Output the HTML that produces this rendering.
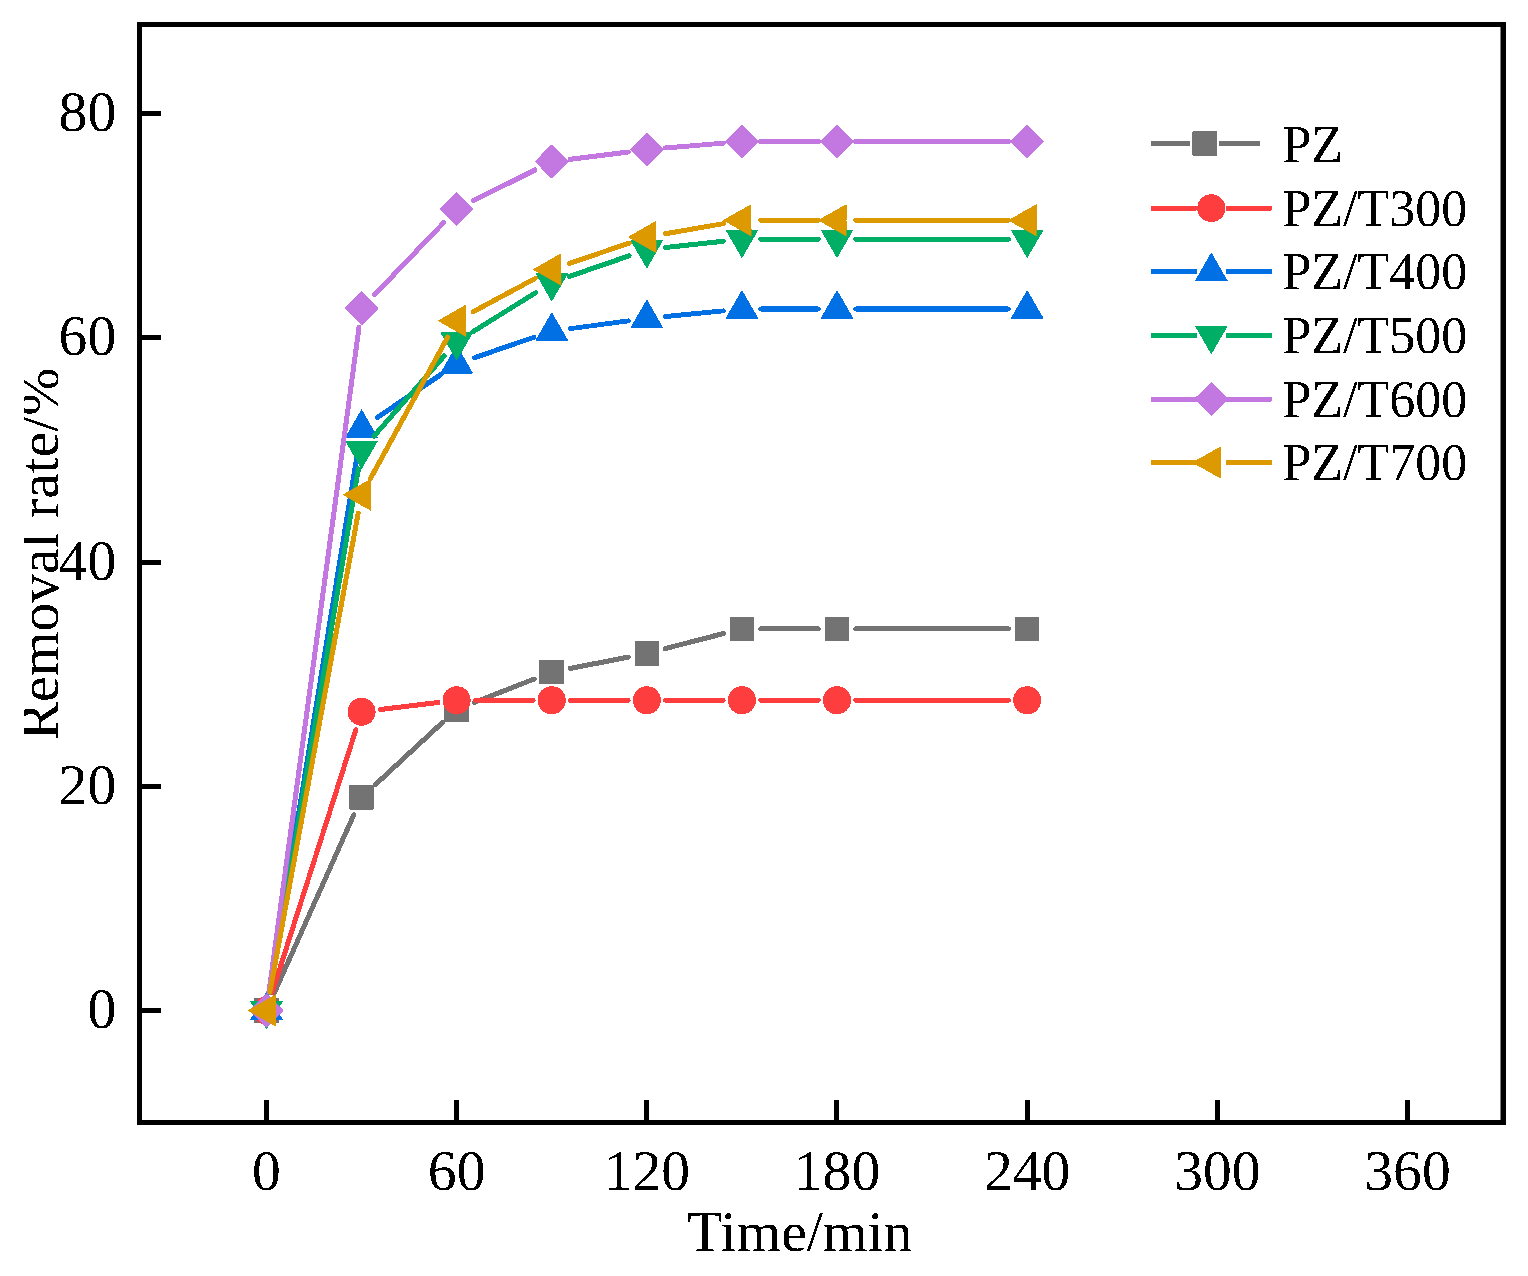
<!DOCTYPE html>
<html><head><meta charset="utf-8"><style>
html,body{margin:0;padding:0;background:#fff;}
svg{display:block;}
.tk{filter:url(#crisp);font-family:"Liberation Serif","Times New Roman",serif;font-size:57.6px;fill:#000;}
.lg{filter:url(#crisp);font-family:"Liberation Serif","Times New Roman",serif;font-size:52px;fill:#000;}
</style></head><body>
<svg width="1528" height="1276" viewBox="0 0 1528 1276">
<defs><filter id="crisp" x="0" y="0" width="100%" height="100%" color-interpolation-filters="sRGB"><feComponentTransfer><feFuncA type="discrete" tableValues="0 1"/></feComponentTransfer></filter></defs>
<rect width="1528" height="1276" fill="#fff"/>
<g filter="url(#crisp)"><line x1="274.16" y1="993.33" x2="353.92" y2="814.52" stroke="#737373" stroke-width="5.0" stroke-linecap="round"/>
<line x1="375.38" y1="784.58" x2="442.87" y2="722.10" stroke="#737373" stroke-width="5.0" stroke-linecap="round"/>
<line x1="474.17" y1="702.48" x2="534.24" y2="678.96" stroke="#737373" stroke-width="5.0" stroke-linecap="round"/>
<line x1="570.20" y1="668.47" x2="628.39" y2="657.01" stroke="#737373" stroke-width="5.0" stroke-linecap="round"/>
<line x1="665.04" y1="648.68" x2="723.71" y2="633.53" stroke="#737373" stroke-width="5.0" stroke-linecap="round"/>
<line x1="760.72" y1="628.83" x2="818.20" y2="628.83" stroke="#737373" stroke-width="5.0" stroke-linecap="round"/>
<line x1="855.80" y1="628.83" x2="1008.37" y2="628.83" stroke="#737373" stroke-width="5.0" stroke-linecap="round"/>
<rect x="254.25" y="998.25" width="24.5" height="24.5" fill="#737373"/>
<rect x="349.33" y="785.10" width="24.5" height="24.5" fill="#737373"/>
<rect x="444.42" y="697.08" width="24.5" height="24.5" fill="#737373"/>
<rect x="539.50" y="659.86" width="24.5" height="24.5" fill="#737373"/>
<rect x="634.58" y="641.13" width="24.5" height="24.5" fill="#737373"/>
<rect x="729.67" y="616.58" width="24.5" height="24.5" fill="#737373"/>
<rect x="824.75" y="616.58" width="24.5" height="24.5" fill="#737373"/>
<rect x="1014.92" y="616.58" width="24.5" height="24.5" fill="#737373"/>
<line x1="272.20" y1="992.59" x2="355.88" y2="729.71" stroke="#FE3E3E" stroke-width="5.0" stroke-linecap="round"/>
<line x1="380.25" y1="709.53" x2="438.00" y2="702.52" stroke="#FE3E3E" stroke-width="5.0" stroke-linecap="round"/>
<line x1="475.47" y1="700.25" x2="532.95" y2="700.25" stroke="#FE3E3E" stroke-width="5.0" stroke-linecap="round"/>
<line x1="570.55" y1="700.25" x2="628.03" y2="700.25" stroke="#FE3E3E" stroke-width="5.0" stroke-linecap="round"/>
<line x1="665.63" y1="700.25" x2="723.12" y2="700.25" stroke="#FE3E3E" stroke-width="5.0" stroke-linecap="round"/>
<line x1="760.72" y1="700.25" x2="818.20" y2="700.25" stroke="#FE3E3E" stroke-width="5.0" stroke-linecap="round"/>
<line x1="855.80" y1="700.25" x2="1008.37" y2="700.25" stroke="#FE3E3E" stroke-width="5.0" stroke-linecap="round"/>
<circle cx="266.50" cy="1010.50" r="14" fill="#FE3E3E"/>
<circle cx="361.58" cy="711.80" r="14" fill="#FE3E3E"/>
<circle cx="456.67" cy="700.25" r="14" fill="#FE3E3E"/>
<circle cx="551.75" cy="700.25" r="14" fill="#FE3E3E"/>
<circle cx="646.83" cy="700.25" r="14" fill="#FE3E3E"/>
<circle cx="741.92" cy="700.25" r="14" fill="#FE3E3E"/>
<circle cx="837.00" cy="700.25" r="14" fill="#FE3E3E"/>
<circle cx="1027.17" cy="700.25" r="14" fill="#FE3E3E"/>
<line x1="269.53" y1="991.95" x2="358.55" y2="446.68" stroke="#0070E4" stroke-width="5.0" stroke-linecap="round"/>
<line x1="377.16" y1="417.60" x2="441.09" y2="374.40" stroke="#0070E4" stroke-width="5.0" stroke-linecap="round"/>
<line x1="474.44" y1="357.75" x2="533.97" y2="337.26" stroke="#0070E4" stroke-width="5.0" stroke-linecap="round"/>
<line x1="570.38" y1="328.63" x2="628.20" y2="320.86" stroke="#0070E4" stroke-width="5.0" stroke-linecap="round"/>
<line x1="665.54" y1="316.52" x2="723.21" y2="310.88" stroke="#0070E4" stroke-width="5.0" stroke-linecap="round"/>
<line x1="760.72" y1="309.05" x2="818.20" y2="309.05" stroke="#0070E4" stroke-width="5.0" stroke-linecap="round"/>
<line x1="855.80" y1="309.05" x2="1008.37" y2="309.05" stroke="#0070E4" stroke-width="5.0" stroke-linecap="round"/>
<polygon points="266.50,991.45 283.00,1020.03 250.00,1020.03" fill="#0070E4"/>
<polygon points="361.58,409.07 378.08,437.65 345.08,437.65" fill="#0070E4"/>
<polygon points="456.67,344.82 473.17,373.40 440.17,373.40" fill="#0070E4"/>
<polygon points="551.75,312.08 568.25,340.66 535.25,340.66" fill="#0070E4"/>
<polygon points="646.83,299.30 663.33,327.88 630.33,327.88" fill="#0070E4"/>
<polygon points="741.92,289.99 758.42,318.57 725.42,318.57" fill="#0070E4"/>
<polygon points="837.00,289.99 853.50,318.57 820.50,318.57" fill="#0070E4"/>
<polygon points="1027.17,289.99 1043.67,318.57 1010.67,318.57" fill="#0070E4"/>
<line x1="269.65" y1="991.97" x2="358.44" y2="468.75" stroke="#00AE66" stroke-width="5.0" stroke-linecap="round"/>
<line x1="373.98" y1="436.08" x2="444.27" y2="355.92" stroke="#00AE66" stroke-width="5.0" stroke-linecap="round"/>
<line x1="472.63" y1="331.85" x2="535.79" y2="292.52" stroke="#00AE66" stroke-width="5.0" stroke-linecap="round"/>
<line x1="569.51" y1="276.43" x2="629.07" y2="255.78" stroke="#00AE66" stroke-width="5.0" stroke-linecap="round"/>
<line x1="665.52" y1="247.57" x2="723.23" y2="241.24" stroke="#00AE66" stroke-width="5.0" stroke-linecap="round"/>
<line x1="760.72" y1="239.19" x2="818.20" y2="239.19" stroke="#00AE66" stroke-width="5.0" stroke-linecap="round"/>
<line x1="855.80" y1="239.19" x2="1008.37" y2="239.19" stroke="#00AE66" stroke-width="5.0" stroke-linecap="round"/>
<polygon points="266.50,1029.55 283.00,1000.97 250.00,1000.97" fill="#00AE66"/>
<polygon points="361.58,469.26 378.08,440.69 345.08,440.69" fill="#00AE66"/>
<polygon points="456.67,360.84 473.17,332.26 440.17,332.26" fill="#00AE66"/>
<polygon points="551.75,301.64 568.25,273.06 535.25,273.06" fill="#00AE66"/>
<polygon points="646.83,268.67 663.33,240.09 630.33,240.09" fill="#00AE66"/>
<polygon points="741.92,258.24 758.42,229.67 725.42,229.67" fill="#00AE66"/>
<polygon points="837.00,258.24 853.50,229.67 820.50,229.67" fill="#00AE66"/>
<polygon points="1027.17,258.24 1043.67,229.67 1010.67,229.67" fill="#00AE66"/>
<line x1="269.02" y1="991.87" x2="359.06" y2="327.00" stroke="#C278E0" stroke-width="5.0" stroke-linecap="round"/>
<line x1="374.58" y1="294.79" x2="443.67" y2="222.61" stroke="#C278E0" stroke-width="5.0" stroke-linecap="round"/>
<line x1="473.48" y1="200.62" x2="534.93" y2="169.90" stroke="#C278E0" stroke-width="5.0" stroke-linecap="round"/>
<line x1="570.40" y1="159.16" x2="628.18" y2="151.94" stroke="#C278E0" stroke-width="5.0" stroke-linecap="round"/>
<line x1="665.57" y1="148.01" x2="723.18" y2="143.12" stroke="#C278E0" stroke-width="5.0" stroke-linecap="round"/>
<line x1="760.72" y1="141.53" x2="818.20" y2="141.53" stroke="#C278E0" stroke-width="5.0" stroke-linecap="round"/>
<line x1="855.80" y1="141.53" x2="1008.37" y2="141.53" stroke="#C278E0" stroke-width="5.0" stroke-linecap="round"/>
<polygon points="266.50,993.30 283.70,1010.50 266.50,1027.70 249.30,1010.50" fill="#C278E0"/>
<polygon points="361.58,291.17 378.78,308.37 361.58,325.57 344.38,308.37" fill="#C278E0"/>
<polygon points="456.67,191.83 473.87,209.03 456.67,226.23 439.47,209.03" fill="#C278E0"/>
<polygon points="551.75,144.29 568.95,161.49 551.75,178.69 534.55,161.49" fill="#C278E0"/>
<polygon points="646.83,132.40 664.03,149.60 646.83,166.80 629.63,149.60" fill="#C278E0"/>
<polygon points="741.92,124.33 759.12,141.53 741.92,158.73 724.72,141.53" fill="#C278E0"/>
<polygon points="837.00,124.33 854.20,141.53 837.00,158.73 819.80,141.53" fill="#C278E0"/>
<polygon points="1027.17,124.33 1044.37,141.53 1027.17,158.73 1009.97,141.53" fill="#C278E0"/>
<line x1="269.91" y1="992.01" x2="358.17" y2="513.21" stroke="#DC9A00" stroke-width="5.0" stroke-linecap="round"/>
<line x1="370.60" y1="478.23" x2="447.65" y2="337.20" stroke="#DC9A00" stroke-width="5.0" stroke-linecap="round"/>
<line x1="473.22" y1="311.79" x2="535.20" y2="278.38" stroke="#DC9A00" stroke-width="5.0" stroke-linecap="round"/>
<line x1="569.55" y1="263.40" x2="629.04" y2="243.13" stroke="#DC9A00" stroke-width="5.0" stroke-linecap="round"/>
<line x1="665.35" y1="233.81" x2="723.40" y2="223.61" stroke="#DC9A00" stroke-width="5.0" stroke-linecap="round"/>
<line x1="760.72" y1="220.36" x2="818.20" y2="220.36" stroke="#DC9A00" stroke-width="5.0" stroke-linecap="round"/>
<line x1="855.80" y1="220.36" x2="1008.37" y2="220.36" stroke="#DC9A00" stroke-width="5.0" stroke-linecap="round"/>
<polygon points="247.43,1010.50 276.03,994.25 276.03,1026.75" fill="#DC9A00"/>
<polygon points="342.52,494.73 371.12,478.48 371.12,510.98" fill="#DC9A00"/>
<polygon points="437.60,320.71 466.20,304.46 466.20,336.96" fill="#DC9A00"/>
<polygon points="532.68,269.47 561.28,253.22 561.28,285.72" fill="#DC9A00"/>
<polygon points="627.77,237.06 656.37,220.81 656.37,253.31" fill="#DC9A00"/>
<polygon points="722.85,220.36 751.45,204.11 751.45,236.61" fill="#DC9A00"/>
<polygon points="817.93,220.36 846.53,204.11 846.53,236.61" fill="#DC9A00"/>
<polygon points="1008.10,220.36 1036.70,204.11 1036.70,236.61" fill="#DC9A00"/></g>
<g filter="url(#crisp)"><rect x="1151" y="141.00" width="39.00" height="5" fill="#737373"/>
<rect x="1219.20" y="141.00" width="40.30" height="5" fill="#737373"/>
<rect x="1192.35" y="131.25" width="24.5" height="24.5" fill="#737373"/>
<rect x="1151" y="205.70" width="45.70" height="5" fill="#FE3E3E"/>
<rect x="1225.90" y="205.70" width="45.80" height="5" fill="#FE3E3E"/>
<circle cx="1211.30" cy="208.20" r="14" fill="#FE3E3E"/>
<rect x="1151" y="268.90" width="45.70" height="5" fill="#0070E4"/>
<rect x="1225.90" y="268.90" width="45.80" height="5" fill="#0070E4"/>
<polygon points="1211.30,252.35 1227.80,280.93 1194.80,280.93" fill="#0070E4"/>
<rect x="1151" y="332.90" width="45.70" height="5" fill="#00AE66"/>
<rect x="1225.90" y="332.90" width="45.80" height="5" fill="#00AE66"/>
<polygon points="1211.30,354.45 1227.80,325.87 1194.80,325.87" fill="#00AE66"/>
<rect x="1151" y="396.60" width="45.70" height="5" fill="#C278E0"/>
<rect x="1225.90" y="396.60" width="45.80" height="5" fill="#C278E0"/>
<polygon points="1211.30,381.90 1228.50,399.10 1211.30,416.30 1194.10,399.10" fill="#C278E0"/>
<rect x="1151" y="460.00" width="45.70" height="5" fill="#DC9A00"/>
<rect x="1225.90" y="460.00" width="45.80" height="5" fill="#DC9A00"/>
<polygon points="1192.23,462.50 1220.83,446.25 1220.83,478.75" fill="#DC9A00"/></g>
<text x="1282.4" y="161.90" class="lg">PZ</text>
<text x="1282.4" y="225.60" class="lg">PZ/T300</text>
<text x="1282.4" y="288.80" class="lg">PZ/T400</text>
<text x="1282.4" y="352.80" class="lg">PZ/T500</text>
<text x="1282.4" y="416.50" class="lg">PZ/T600</text>
<text x="1282.4" y="479.90" class="lg">PZ/T700</text>
<rect x="137" y="22" width="1369" height="5" fill="#000"/>
<rect x="137" y="1120" width="1369" height="5" fill="#000"/>
<rect x="137" y="22" width="5" height="1103" fill="#000"/>
<rect x="1500.5" y="22" width="5.5" height="1103" fill="#000"/>
<rect x="142" y="1008.00" width="19" height="5" fill="#000"/>
<text x="116.2" y="1028.20" class="tk" text-anchor="end">0</text>
<rect x="142" y="784.00" width="19" height="5" fill="#000"/>
<text x="116.2" y="803.95" class="tk" text-anchor="end">20</text>
<rect x="142" y="560.00" width="19" height="5" fill="#000"/>
<text x="116.2" y="579.70" class="tk" text-anchor="end">40</text>
<rect x="142" y="335.00" width="19" height="5" fill="#000"/>
<text x="116.2" y="355.45" class="tk" text-anchor="end">60</text>
<rect x="142" y="111.00" width="19" height="5" fill="#000"/>
<text x="116.2" y="131.20" class="tk" text-anchor="end">80</text>
<rect x="264.00" y="1100" width="5" height="20" fill="#000"/>
<text x="266.50" y="1190.2" class="tk" text-anchor="middle">0</text>
<rect x="454.00" y="1100" width="5" height="20" fill="#000"/>
<text x="456.67" y="1190.2" class="tk" text-anchor="middle">60</text>
<rect x="644.00" y="1100" width="5" height="20" fill="#000"/>
<text x="646.83" y="1190.2" class="tk" text-anchor="middle">120</text>
<rect x="834.00" y="1100" width="5" height="20" fill="#000"/>
<text x="837.00" y="1190.2" class="tk" text-anchor="middle">180</text>
<rect x="1025.00" y="1100" width="5" height="20" fill="#000"/>
<text x="1027.17" y="1190.2" class="tk" text-anchor="middle">240</text>
<rect x="1215.00" y="1100" width="5" height="20" fill="#000"/>
<text x="1217.33" y="1190.2" class="tk" text-anchor="middle">300</text>
<rect x="1405.00" y="1100" width="5" height="20" fill="#000"/>
<text x="1407.50" y="1190.2" class="tk" text-anchor="middle">360</text>
<text x="799.8" y="1250.7" class="tk" text-anchor="middle">Time/min</text>
<defs><clipPath id="yc"><rect x="24" y="300" width="60" height="500"/></clipPath></defs>
<g clip-path="url(#yc)"><text transform="translate(58.0,554) rotate(-90)" x="0" y="0" class="tk" text-anchor="middle">Removal rate/%</text></g>
</svg>
</body></html>
